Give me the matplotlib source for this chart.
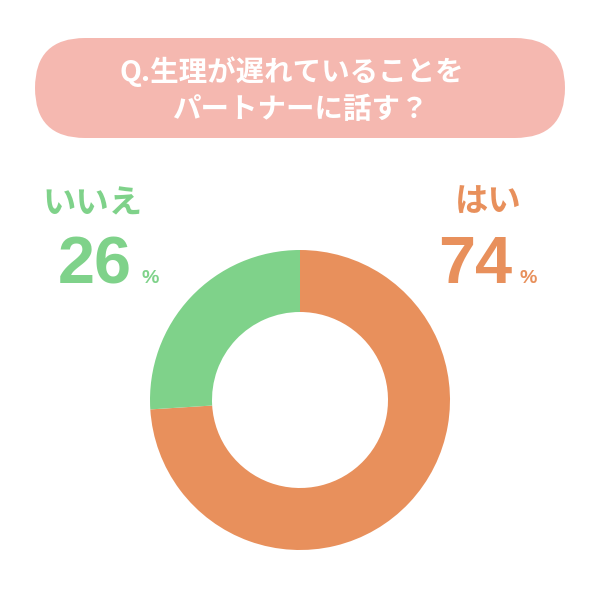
import matplotlib
matplotlib.use("Agg")
import matplotlib.pyplot as plt
from matplotlib.patches import FancyBboxPatch

plt.rcParams['font.family'] = ['Noto Sans CJK JP', 'DejaVu Sans']

# data
labels = ['はい', 'いいえ']
values = [74, 26]
colors = ['#E8905C', '#7FD28A']
title_lines = ['Q.生理が遅れていることを', 'パートナーに話す？']

fig = plt.figure(figsize=(6, 6), dpi=100)
ax = fig.add_axes([0, 0, 1, 1])

# donut, centre (300,200) in pixel coords with y going up
ax.pie(values, colors=colors, startangle=90, counterclock=False,
       radius=150, center=(300, 200),
       wedgeprops=dict(width=62, edgecolor='none'))

ax.set_xlim(0, 600)
ax.set_ylim(0, 600)
ax.set_aspect('equal')
ax.axis('off')

# title pill
pill = FancyBboxPatch((35, 462), 530, 100,
                      boxstyle="round,pad=0,rounding_size=50",
                      fc='#F5B8B0', ec='none')
ax.add_patch(pill)
ax.text(292, 528, title_lines[0], ha='center', va='center',
        color='white', fontsize=20.5, fontweight='bold')
ax.text(300, 490, title_lines[1], ha='center', va='center',
        color='white', fontsize=20.5, fontweight='bold')

# labels
ax.text(93, 396, labels[1], ha='center', va='center', color=colors[1],
        fontsize=24, fontweight='bold')
ax.text(95, 317, str(values[1]), ha='center', va='baseline', color=colors[1],
        fontsize=48, fontweight='bold', family='Liberation Sans')
ax.text(141, 317, '%', ha='left', va='baseline', color=colors[1],
        fontsize=14, fontweight='bold', family='Liberation Sans')

ax.text(488, 398, labels[0], ha='center', va='center', color=colors[0],
        fontsize=24, fontweight='bold')
ax.text(475, 317, str(values[0]), ha='center', va='baseline', color=colors[0],
        fontsize=48, fontweight='bold', family='Liberation Sans')
ax.text(519, 317, '%', ha='left', va='baseline', color=colors[0],
        fontsize=14, fontweight='bold', family='Liberation Sans')

fig.savefig('out.png', dpi=100, facecolor='white')
